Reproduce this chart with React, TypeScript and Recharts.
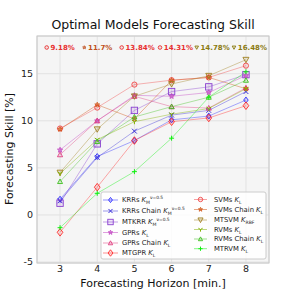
import React from 'react';
import { LineChart, Line, XAxis, YAxis, CartesianGrid, Customized } from 'recharts';

const horizons = [3, 4, 5, 6, 7, 8];

const krrs = [1.67, 6.2, 7.9, 10.1, 10.5, 12.2];
const krrsChain = [1.5, 6.1, 8.9, 10.6, 11.1, 13.1];
const mtkrr = [1.25, 7.55, 11.1, 13.1, 13.6, 14.9];
const gprs = [6.9, 10.0, 12.7, 12.6, 13.0, 14.8];
const gprsChain = [6.4, 10.0, 12.6, 11.5, 11.35, 13.5];
const mtgpr = [-1.84, 2.95, 7.9, 9.9, 10.3, 11.6];
const svms = [9.18, 11.4, 13.84, 14.31, 14.6, 15.85];
const svmsChain = [9.1, 11.7, 10.2, 14.3, 14.6, 13.4];
const mtsvm = [4.5, 9.1, 12.6, 13.9, 14.78, 16.48];
const rvms = [4.4, 8.0, 9.9, 10.7, 11.3, 13.4];
const rvmsChain = [3.55, 7.8, 10.4, 11.5, 12.5, 14.3];
const mtrvm = [-1.35, 2.3, 4.6, 8.15, 12.5, 15.2];

const bestLabels = ['9.18%', '11.7%', '13.84%', '14.31%', '14.78%', '16.48%'];
const yTicks = [-5, 0, 5, 10, 15];

type Kind = 'diamond' | 'x' | 'square' | 'star' | 'triUp' | 'triDown' | 'circle' | 'plus' | 'tri';

interface SeriesDef {
  key: string;
  name: string;
  sub: string;
  sup?: string;
  values: number[];
  color: string;
  kind: Kind;
  size: number;
}

const series: SeriesDef[] = [
  { key: 'krrs', name: 'KRRs', sub: 'M', sup: 'ν=0.5', values: krrs, color: '#2a2aff', kind: 'diamond', size: 3 },
  { key: 'krrsChain', name: 'KRRs Chain', sub: 'M', sup: 'ν=0.5', values: krrsChain, color: '#3a30d8', kind: 'x', size: 2.4 },
  { key: 'mtkrr', name: 'MTKRR', sub: 'M', sup: 'ν=0.5', values: mtkrr, color: '#8a40d0', kind: 'square', size: 3.2 },
  { key: 'gprs', name: 'GPRs', sub: 'L', values: gprs, color: '#c040c0', kind: 'star', size: 2.8 },
  { key: 'gprsChain', name: 'GPRs Chain', sub: 'L', values: gprsChain, color: '#e04080', kind: 'triUp', size: 2.6 },
  { key: 'mtgpr', name: 'MTGPR', sub: 'L', values: mtgpr, color: '#ff2a2a', kind: 'diamond', size: 3.8 },
  { key: 'svms', name: 'SVMs', sub: 'L', values: svms, color: '#f04848', kind: 'circle', size: 2.6 },
  { key: 'svmsChain', name: 'SVMs Chain', sub: 'L', values: svmsChain, color: '#d05010', kind: 'star', size: 2.6 },
  { key: 'mtsvm', name: 'MTSVM', sub: 'RBF', values: mtsvm, color: '#a08020', kind: 'triDown', size: 3 },
  { key: 'rvms', name: 'RVMs', sub: 'L', values: rvms, color: '#80b000', kind: 'tri', size: 2.5 },
  { key: 'rvmsChain', name: 'RVMs Chain', sub: 'L', values: rvmsChain, color: '#40c020', kind: 'triUp', size: 2.5 },
  { key: 'mtrvm', name: 'MTRVM', sub: 'L', values: mtrvm, color: '#10f010', kind: 'plus', size: 2.5 },
];

const bestColors = ['#e83030', '#c05020', '#e83030', '#e83030', '#8a7a10', '#8a7a10'];
const bestKinds: Kind[] = ['circle', 'star', 'circle', 'circle', 'triDown', 'triDown'];

const data = horizons.map((h, i) => {
  const row: Record<string, number> = { h };
  series.forEach(s => { row[s.key] = s.values[i]; });
  return row;
});

const FONT = '"DejaVu Sans", sans-serif';

const Marker = ({ kind, cx, cy, color, size }: { kind: Kind; cx: number; cy: number; color: string; size: number }) => {
  const s = size;
  const common = { stroke: color, strokeWidth: 0.9, fill: color, fillOpacity: 0.12 };
  switch (kind) {
    case 'diamond':
      return <polygon points={`${cx},${cy - s} ${cx + s * 0.75},${cy} ${cx},${cy + s} ${cx - s * 0.75},${cy}`} {...common} />;
    case 'square':
      return <rect x={cx - s} y={cy - s} width={2 * s} height={2 * s} {...common} />;
    case 'circle':
      return <circle cx={cx} cy={cy} r={s} {...common} />;
    case 'x':
      return <path d={`M${cx - s},${cy - s}L${cx + s},${cy + s}M${cx - s},${cy + s}L${cx + s},${cy - s}`} stroke={color} strokeWidth={1} />;
    case 'plus':
      return <path d={`M${cx - s},${cy}L${cx + s},${cy}M${cx},${cy - s}L${cx},${cy + s}`} stroke={color} strokeWidth={1} />;
    case 'triUp':
      return <polygon points={`${cx},${cy - s} ${cx + s},${cy + s * 0.8} ${cx - s},${cy + s * 0.8}`} {...common} />;
    case 'triDown':
      return <polygon points={`${cx},${cy + s} ${cx + s},${cy - s * 0.8} ${cx - s},${cy - s * 0.8}`} {...common} />;
    case 'tri':
      return <path d={`M${cx},${cy}L${cx},${cy + s}M${cx},${cy}L${cx - s},${cy - s * 0.6}M${cx},${cy}L${cx + s},${cy - s * 0.6}`} stroke={color} strokeWidth={1} />;
    case 'star': {
      const pts: string[] = [];
      for (let k = 0; k < 10; k++) {
        const r = k % 2 === 0 ? s : s * 0.45;
        const a = -Math.PI / 2 + (k * Math.PI) / 5;
        pts.push(`${cx + r * Math.cos(a)},${cy + r * Math.sin(a)}`);
      }
      return <polygon points={pts.join(' ')} stroke={color} strokeWidth={0.7} fill={color} fillOpacity={0.6} />;
    }
  }
  return null;
};

const MathLabel = ({ x, y, s }: { x: number; y: number; s: SeriesDef }) => (
  <text x={x} y={y} fontSize={6.8} fontFamily={FONT} fill="#222">
    {s.name + ' '}
    <tspan fontStyle="italic">K</tspan>
    <tspan fontSize={4.6} dy={1.6}>{s.sub}</tspan>
    {s.sup ? <tspan fontSize={4.4} dy={-4.6}>{s.sup}</tspan> : null}
  </text>
);

const Overlay = () => {
  const bestX = [46.7, 84.3, 121.7, 160, 196.7, 234];
  const col1 = [200, 211, 222, 232.5, 243, 253];
  const col2 = [199.5, 209.5, 220, 229.5, 239, 248.7];
  return (
    <g>
      <rect x={37} y={36} width={232} height={227} fill="none" stroke="#c8c8c8" strokeWidth={1} />
      <text x={153} y={29} textAnchor="middle" fontSize={12.5} fontFamily={FONT} fill="#111">
        Optimal Models Forecasting Skill
      </text>
      <text x={153} y={287} textAnchor="middle" fontSize={11} fontFamily={FONT} fill="#111">
        Forecasting Horizon [min.]
      </text>
      <text x={13} y={149} textAnchor="middle" fontSize={11} fontFamily={FONT} fill="#111" transform="rotate(-90 13 149)">
        Forecasting Skill [%]
      </text>
      {bestLabels.map((t, i) => (
        <g key={t}>
          <Marker kind={bestKinds[i]} cx={bestX[i]} cy={47.5} color={bestColors[i]} size={1.8} />
          <text x={bestX[i] + 3.8} y={50} fontSize={7} fontWeight="bold" fontFamily={FONT} fill={bestColors[i]}>{t}</text>
        </g>
      ))}
      <rect x={101} y={192} width={165} height={67} rx={2} fill="#ffffff" fillOpacity={0.85} stroke="#cccccc" />
      {series.map((s, i) => {
        const left = i < 6;
        const y = left ? col1[i] : col2[i - 6];
        const x0 = left ? 103 : 194;
        const x1 = left ? 118 : 207;
        return (
          <g key={s.key}>
            <line x1={x0} x2={x1} y1={y} y2={y} stroke={s.color} strokeOpacity={0.5} />
            <Marker kind={s.kind} cx={(x0 + x1) / 2} cy={y} color={s.color} size={s.size * 0.85} />
            <MathLabel x={left ? 122 : 214} y={y + 2.4} s={s} />
          </g>
        );
      })}
    </g>
  );
};

export default function App() {
  return (
    <div style={{ position: 'absolute', left: 0, top: 0, width: 300, height: 300, background: '#fff' }}>
      <LineChart width={300} height={300} data={data} margin={{ top: 36, right: 31, left: 0, bottom: 0 }}>
        <CartesianGrid stroke="#e2e2e2" fill="#f5f5f5" />
        <XAxis
          dataKey="h"
          type="number"
          domain={[2.38, 8.62]}
          ticks={horizons}
          height={37}
          tickLine={false}
          tickSize={0}
          axisLine={false}
          tick={{ fontSize: 9.5, fontFamily: FONT, fill: '#222' }}
          tickMargin={2}
        />
        <YAxis
          type="number"
          domain={[-5.1, 19]}
          ticks={yTicks}
          width={37}
          tickLine={false}
          tickSize={0}
          axisLine={false}
          tick={{ fontSize: 9.5, fontFamily: FONT, fill: '#222' }}
          tickMargin={4}
          allowDataOverflow
        />
        {series.map(s => (
          <Line
            key={s.key}
            dataKey={s.key}
            stroke={s.color}
            strokeOpacity={0.45}
            strokeWidth={0.9}
            isAnimationActive={false}
            dot={(p: any) => <Marker key={`${s.key}-${p.index}`} kind={s.kind} cx={p.cx} cy={p.cy} color={s.color} size={s.size} />}
          />
        ))}
        <Customized component={Overlay} />
      </LineChart>
    </div>
  );
}
